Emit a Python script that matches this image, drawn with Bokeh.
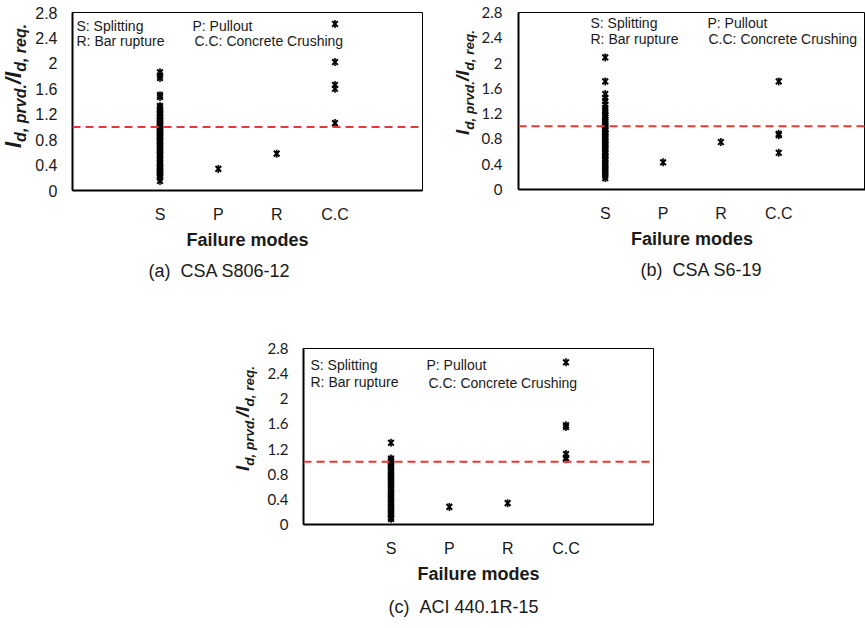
import math
from bokeh.plotting import figure
from bokeh.models import (FactorRange, Range1d, FixedTicker, CustomJSTickFormatter,
                          Span, Label, Title, Spacer, ColumnDataSource, Div)
from bokeh.layouts import row, column
from bokeh.embed import file_html
from bokeh.resources import INLINE

# ---------------- data ----------------
modes = ["S", "P", "R", "C.C"]
y_ticks = [0, 0.4, 0.8, 1.2, 1.6, 2.0, 2.4, 2.8]
limit_ratio = 1.0

# (a) CSA S806-12
a_S = [1.86, 1.81, 1.77, 1.50, 1.47, 1.33, 1.31, 1.28, 1.26, 1.23, 1.21, 1.19, 1.16,
       1.14, 1.12, 1.10, 1.08, 1.06, 1.04, 1.02, 1.00, 0.98, 0.96, 0.95, 0.93, 0.91,
       0.89, 0.87, 0.85, 0.83, 0.81, 0.79, 0.77, 0.75, 0.73, 0.71, 0.69, 0.67, 0.65,
       0.63, 0.61, 0.59, 0.56, 0.54, 0.51, 0.49, 0.45, 0.43, 0.40, 0.38, 0.36, 0.34,
       0.32, 0.30, 0.28, 0.26, 0.24, 0.22, 0.20, 0.15]
a_P = [0.34]
a_R = [0.58]
a_CC = [2.62, 2.02, 1.66, 1.60, 1.06]

# (b) CSA S6-19
b_S = [2.09, 1.71, 1.51, 1.45, 1.40, 1.34, 1.29, 1.25, 1.21, 1.17, 1.14, 1.11, 1.08,
       1.05, 1.02, 1.00, 0.97, 0.95, 0.93, 0.90, 0.88, 0.85, 0.83, 0.81, 0.78, 0.76,
       0.73, 0.71, 0.68, 0.65, 0.63, 0.60, 0.57, 0.54, 0.52, 0.49, 0.46, 0.43, 0.40,
       0.37, 0.34, 0.31, 0.28, 0.25, 0.22, 0.18]
b_P = [0.43]
b_R = [0.75]
b_CC = [1.71, 0.88, 0.86, 0.58]

# (c) ACI 440.1R-15
c_S = [1.30, 1.05, 1.02, 1.00, 0.97, 0.94, 0.92, 0.89, 0.86, 0.83, 0.80, 0.77, 0.74,
       0.71, 0.68, 0.65, 0.62, 0.59, 0.56, 0.53, 0.50, 0.47, 0.44, 0.41, 0.38, 0.35,
       0.32, 0.29, 0.26, 0.23, 0.20, 0.17, 0.14, 0.11, 0.09]
c_P = [0.28]
c_R = [0.34]
c_CC = [2.58, 1.58, 1.55, 1.12, 1.06, 1.04]

captions = ["(a)\u00a0\u00a0CSA S806-12", "(b)\u00a0\u00a0CSA S6-19", "(c)\u00a0\u00a0ACI 440.1R-15"]
x_title = "Failure modes"
legend_texts = ["S: Splitting", "R: Bar rupture", "P: Pullout", "C.C: Concrete Crushing"]
y_title_parts = ["l", "d, prvd.", "/l", "d, req."]   # main, subscript, main, subscript

BLACK = "#1a1a1a"


def make_panel(series, caption, cfg):
    xs, ys = [], []
    for m, vals in zip(modes, series):
        xs += [m] * len(vals)
        ys += list(vals)
    src = ColumnDataSource(dict(mode=xs, ratio=ys))

    p = figure(x_range=FactorRange(*modes, range_padding=1.0, range_padding_units="absolute"),
               y_range=Range1d(0, 2.8),
               frame_width=cfg["fw"], frame_height=cfg["fh"],
               min_border_left=cfg["left"], min_border_right=cfg["right"],
               min_border_top=cfg["top"], min_border_bottom=cfg["bottom"],
               output_backend="svg", toolbar_location=None, title=None,
               background_fill_color="white", border_fill_color="white")
    p.xgrid.grid_line_color = None
    p.ygrid.grid_line_color = None
    p.outline_line_color = "black"
    p.outline_line_width = 1

    ya = p.yaxis[0]
    ya.ticker = FixedTicker(ticks=y_ticks)
    ya.formatter = CustomJSTickFormatter(code="return String(Math.round(tick*10)/10)")
    ya.major_tick_line_color = None
    ya.minor_tick_line_color = None
    ya.major_tick_out = 0
    ya.major_tick_in = 0
    ya.minor_tick_out = 0
    ya.axis_line_width = 2
    ya.axis_line_color = "black"
    ya.major_label_standoff = cfg["ystandoff"]
    ya.major_label_text_font = cfg["tickfont"]
    ya.major_label_text_font_size = cfg["ticksize"]
    ya.major_label_text_color = BLACK

    xa = p.xaxis[0]
    xa.major_tick_line_color = None
    xa.minor_tick_line_color = None
    xa.major_tick_out = 0
    xa.major_tick_in = 0
    xa.axis_line_width = 2
    xa.axis_line_color = "black"
    xa.major_label_standoff = 15
    xa.major_label_text_font = "Liberation Sans"
    xa.major_label_text_font_size = "16px"
    xa.major_label_text_color = BLACK
    xa.axis_label = x_title
    xa.axis_label_text_font = "Liberation Sans"
    xa.axis_label_text_font_size = "18px"
    xa.axis_label_text_font_style = "bold"
    xa.axis_label_text_color = BLACK
    xa.axis_label_standoff = 4

    p.add_layout(Span(location=limit_ratio, dimension="width", line_color="#e63a33",
                      line_width=2, line_dash="8 5"))

    # Excel "star" marker: x with a vertical bar
    p.scatter(x="mode", y="ratio", source=src, marker="x", size=8,
              line_color="black", line_width=2)
    p.scatter(x="mode", y="ratio", source=src, marker="dash", angle=math.pi / 2,
              size=8, line_color="black", line_width=1.6)

    fh = cfg["fh"]
    for txt, (lx, ld) in zip(legend_texts, cfg["legend"]):
        p.add_layout(Label(x=lx, y=fh - ld, x_units="screen", y_units="screen", text=txt,
                           text_font="Liberation Sans", text_font_size="14px",
                           text_color=BLACK, text_baseline="middle", text_align="left"))

    p.add_layout(Title(text=caption, align="left", offset=cfg["capoff"],
                       text_font="Liberation Sans", text_font_size="18px",
                       text_font_style="normal", text_color=BLACK,
                       standoff=cfg["capstand"]), "below")
    return p


def make_ylabel(cfg):
    ms, ss = cfg["ymain"], cfg["ysub"]
    sub_style = f"font-size:{ss}px;vertical-align:-5px;"
    html = (
        f'<div style="display:block;width:max-content;white-space:nowrap;margin:0;padding:0;'
        f'font-family:\'Liberation Sans\',Arial,sans-serif;font-weight:bold;font-style:italic;'
        f'font-size:{ms}px;line-height:{ms + 2}px;color:{BLACK};'
        f'transform-origin:0 0;transform:translate({cfg["tx"]}px,{cfg["ty"]}px) rotate(-90deg);">'
        f'{y_title_parts[0]}<span style="{sub_style}">{y_title_parts[1]}</span>'
        f'{y_title_parts[2]}<span style="{sub_style}">{y_title_parts[3]}</span></div>'
    )
    return Div(text=html, width=cfg["lw"], height=cfg["lh"], margin=0)


cfg_a = dict(fw=350, fh=178, left=40, right=18, top=12, bottom=110, ystandoff=15,
             tickfont="Liberation Sans", ticksize="16px",
             legend=[(4, 13), (4, 28), (120, 13), (122, 28)], capoff=76, capstand=12,
             lw=32, lh=300, ymain=22, ysub=16, tx=1.5, ty=148)
cfg_b = dict(fw=347, fh=177, left=40, right=0, top=12, bottom=111, ystandoff=16,
             tickfont="Lato", ticksize="15px",
             legend=[(72, 10.5), (72, 26), (189, 10.5), (190, 26)], capoff=122, capstand=12,
             lw=38, lh=300, ymain=19, ysub=13.5, tx=12, ty=135)
cfg_c = dict(fw=350, fh=176, left=41, right=10, top=48, bottom=104, ystandoff=15,
             tickfont="Lato", ticksize="15px",
             legend=[(7, 16), (7, 33), (123, 16), (125, 34)], capoff=85, capstand=17,
             lw=39, lh=328, ymain=19, ysub=13.5, tx=9, ty=171)

pa = make_panel([a_S, a_P, a_R, a_CC], captions[0], cfg_a)
pb = make_panel([b_S, b_P, b_R, b_CC], captions[1], cfg_b)
pc = make_panel([c_S, c_P, c_R, c_CC], captions[2], cfg_c)
la, lb, lc = make_ylabel(cfg_a), make_ylabel(cfg_b), make_ylabel(cfg_c)

layout = column(row(la, pa, lb, pb), row(Spacer(width=223, height=10), lc, pc))

open("out.html", "w").write(file_html(layout, INLINE))
